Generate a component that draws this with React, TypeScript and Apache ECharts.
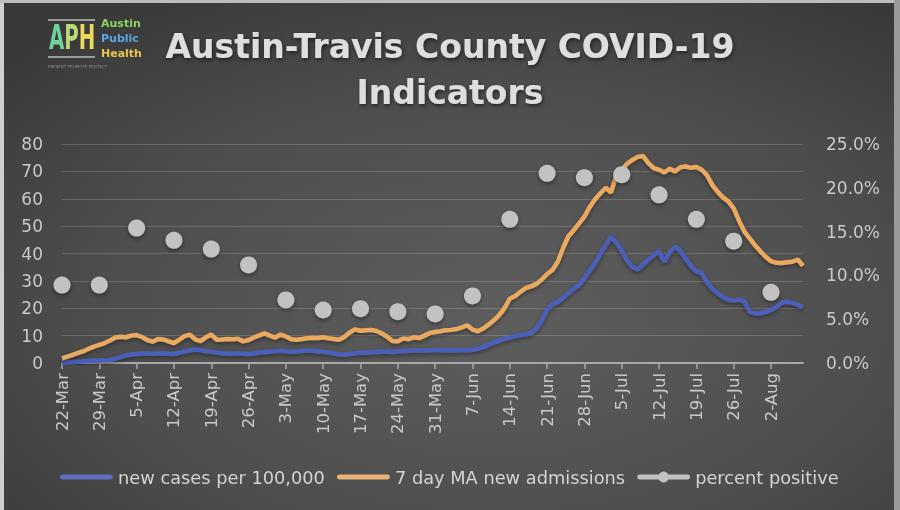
import React, { useEffect, useRef } from "react";
import * as echarts from "echarts";

const monthNames = ["Jan", "Feb", "Mar", "Apr", "May", "Jun", "Jul", "Aug", "Sep", "Oct", "Nov", "Dec"];
const dayCount = 140; // 22-Mar .. 8-Aug
const categories: string[] = [];
for (let i = 0; i < dayCount; i++) {
  const d = new Date(2020, 2, 22 + i);
  categories.push(`${d.getDate()}-${monthNames[d.getMonth()]}`);
}

const newCases = [
  0.2, 0.3, 0.4, 0.5, 0.6, 0.7, 0.8, 0.9, 1.0, 1.1,
  1.6, 2.2, 2.8, 3.1, 3.3, 3.5, 3.6, 3.4, 3.5, 3.6,
  3.4, 3.3, 3.8, 4.2, 4.6, 4.9, 4.7, 4.3, 4.1, 3.8,
  3.6, 3.5, 3.4, 3.5, 3.4, 3.3, 3.5, 3.8, 4.0, 4.1,
  4.4, 4.5, 4.3, 4.1, 4.2, 4.4, 4.6, 4.5, 4.3, 4.1,
  3.8, 3.5, 3.2, 3.0, 3.3, 3.6, 3.8, 3.7, 3.9, 4.0,
  4.1, 4.2, 4.0, 4.2, 4.4, 4.5, 4.6, 4.7, 4.6, 4.7,
  4.8, 4.7, 4.7, 4.6, 4.7, 4.8, 4.7, 4.8, 5.2, 5.8,
  6.6, 7.4, 8.2, 8.8, 9.3, 9.8, 10.2, 10.5, 11.0, 12.5,
  15.5, 19.5, 21.5, 22.3, 23.8, 25.5, 27.2, 28.5, 31.0, 33.8,
  36.5, 40.0, 43.0, 46.1, 44.0, 41.0, 37.5, 35.0, 34.2, 36.0,
  37.8, 39.4, 40.8, 37.0, 40.5, 42.4, 41.0, 38.0, 35.5, 33.5,
  32.8, 29.5, 27.0, 25.5, 24.0, 23.2, 22.8, 23.2, 22.4, 18.8,
  18.0, 18.2, 18.6, 19.3, 20.5, 22.0, 22.4, 22.0, 21.3, 20.5,
];

const admissions = [
  1.7, 2.3, 3.0, 3.7, 4.3, 5.2, 6.0, 6.6, 7.3, 8.2,
  9.3, 9.6, 9.4, 10.0, 10.2, 9.5, 8.4, 7.8, 8.8, 8.6,
  7.9, 7.3, 8.5, 9.8, 10.4, 8.6, 8.0, 9.4, 10.4, 8.5,
  8.6, 8.8, 8.7, 8.9, 7.9, 8.4, 9.3, 10.1, 10.8, 10.0,
  9.3, 10.4, 9.7, 8.7, 8.5, 8.8, 9.0, 9.2, 9.1, 9.4,
  9.0, 8.8, 8.5, 9.6, 11.2, 12.3, 11.8, 12.0, 12.1, 11.7,
  10.8, 9.6, 8.0, 7.9, 9.0, 8.7, 9.4, 9.1, 10.0, 11.0,
  11.3, 11.6, 12.0, 12.1, 12.4, 13.0, 13.8, 12.2, 11.6, 12.6,
  14.0, 15.6, 17.5, 20.0, 23.5, 24.5, 26.0, 27.4, 28.0, 28.9,
  30.5, 32.5, 34.0, 37.0, 42.0, 46.3, 48.5, 51.0, 53.5, 57.0,
  59.8, 62.0, 64.0, 62.3, 68.6, 70.5, 72.8, 74.2, 75.3, 75.6,
  73.0, 71.2, 70.6, 69.6, 71.0, 70.0, 71.5, 71.8, 71.3, 71.6,
  70.6, 68.6, 65.0, 62.5, 60.5, 59.0, 56.5, 52.0, 48.0, 45.5,
  43.0, 40.8, 38.8, 37.2, 36.6, 36.5, 36.8, 37.0, 37.8, 35.5,
];

// weekly, starting 22-Mar
const percentPositiveWeekly = [
  8.9, 8.9, 15.4, 14.0, 13.0, 11.2, 7.2, 6.05, 6.2, 5.86,
  5.6, 7.65, 16.4, 21.65, 21.15, 21.5, 19.2, 16.4, 13.9, 8.07,
];

const percentPositive: (number | null)[] = categories.map((_, i) =>
  i % 7 === 0 && i / 7 < percentPositiveWeekly.length ? percentPositiveWeekly[i / 7] : null
);

const seriesNames = ["new cases per 100,000", "7 day MA new admissions", "percent positive"];

const FONT = "DejaVu Sans";
const CORNERS = "M0,0L0.01,0L0,0.01Z M53,14L52.99,14L53,13.99Z";
const LINE_ICON = "path://" + CORNERS + " M2,4.5H51A2.5,2.5 0 0 1 51,9.5H2A2.5,2.5 0 0 1 2,4.5Z";
const DOT_ICON =
  "path://" + CORNERS +
  " M2,4.5H21.6V9.5H2A2.5,2.5 0 0 1 2,4.5Z" +
  " M31.4,4.5H51A2.5,2.5 0 0 1 51,9.5H31.4Z" +
  " M21,7A5.5,5.5 0 0 1 32,7A5.5,5.5 0 0 1 21,7Z";

export default function App() {
  const ref = useRef<HTMLDivElement>(null);
  useEffect(() => {
    if (!ref.current) return;
    const chart = echarts.init(ref.current, undefined, { renderer: "svg" });
    const shadow = { textShadowColor: "rgba(0,0,0,0.55)", textShadowBlur: 4, textShadowOffsetX: 1, textShadowOffsetY: 2 };
    chart.setOption({
      animation: false,
      backgroundColor: new echarts.graphic.RadialGradient(0.55, 0.62, 0.75, [
        { offset: 0, color: "#5e5e5e" },
        { offset: 0.6, color: "#4d4d4d" },
        { offset: 1, color: "#383838" },
      ]),
      grid: { left: 62, right: 97, top: 144, bottom: 147, containLabel: false },
      legend: {
        left: 55,
        top: 463,
        itemWidth: 53,
        itemHeight: 14,
        itemGap: 12,
        data: [
          { name: seriesNames[0], icon: LINE_ICON },
          { name: seriesNames[1], icon: LINE_ICON },
          { name: seriesNames[2], icon: DOT_ICON },
        ],
        textStyle: { color: "#d4d4d4", fontFamily: FONT, fontSize: 17.8 },
      },
      xAxis: {
        type: "category",
        data: categories,
        boundaryGap: false,
        axisLine: { lineStyle: { color: "#a8a8a8", width: 2 } },
        axisTick: { show: true, interval: 6, length: 6, lineStyle: { color: "#a8a8a8", width: 1.5 } },
        axisLabel: { interval: 6, rotate: 90, margin: 10, color: "#c9c9c9", fontFamily: FONT, fontSize: 16.5 },
        splitLine: { show: false },
      },
      yAxis: [
        {
          type: "value",
          min: 0,
          max: 80,
          interval: 10,
          axisLine: { show: false },
          axisTick: { show: false },
          axisLabel: { margin: 19, color: "#c9c9c9", fontFamily: FONT, fontSize: 17 },
          splitLine: { lineStyle: { color: "rgba(255,255,255,0.16)", width: 1 } },
        },
        {
          type: "value",
          min: 0,
          max: 25,
          interval: 5,
          position: "right",
          axisLine: { show: false },
          axisTick: { show: false },
          axisLabel: {
            margin: 23,
            color: "#c9c9c9",
            fontFamily: FONT,
            fontSize: 17,
            formatter: (v: number) => v.toFixed(1) + "%",
          },
          splitLine: { show: false },
        },
      ],
      series: [
        {
          name: seriesNames[0],
          type: "line",
          data: newCases,
          showSymbol: false,
          symbol: "none",
          lineStyle: { color: "#4c5fb8", width: 4.5, shadowColor: "rgba(0,0,0,0.4)", shadowBlur: 4, shadowOffsetY: 2 },
          itemStyle: { color: "#5e6fc0" },
          z: 2,
        },
        {
          name: seriesNames[1],
          type: "line",
          data: admissions,
          showSymbol: false,
          symbol: "none",
          lineStyle: { color: "#eaa95f", width: 4.5, shadowColor: "rgba(0,0,0,0.4)", shadowBlur: 4, shadowOffsetY: 2 },
          itemStyle: { color: "#e9b276" },
          z: 3,
        },
        {
          name: seriesNames[2],
          type: "line",
          yAxisIndex: 1,
          data: percentPositive,
          connectNulls: false,
          showSymbol: true,
          showAllSymbol: true,
          symbol: "circle",
          symbolSize: 17,
          lineStyle: { color: "#bdbdbd", width: 5 },
          itemStyle: { color: "#c2c2c2", shadowColor: "rgba(0,0,0,0.45)", shadowBlur: 4, shadowOffsetY: 2 },
          z: 4,
        },
      ],
      graphic: [
        // screen edges
        { type: "rect", left: 0, top: 0, shape: { width: 4, height: 510 }, style: { fill: "#cfcfcf" }, silent: true },
        { type: "rect", left: 0, top: 0, shape: { width: 900, height: 3 }, style: { fill: "#bdbdbd" }, silent: true },
        { type: "rect", right: 0, top: 0, shape: { width: 6, height: 510 }, style: { fill: "#9a9a9a" }, silent: true },
        // logo
        { type: "rect", left: 48, top: 19, shape: { width: 47, height: 2 }, style: { fill: "#9c9c9c" }, silent: true },
        { type: "rect", left: 48, top: 56, shape: { width: 47, height: 2 }, style: { fill: "#9c9c9c" }, silent: true },
        {
          type: "text",
          x: 49,
          y: 21,
          scaleX: 0.6,
          style: {
            text: "{a|A}{p|P}{h|H}",
            font: `bold 33px ${FONT}`,
            rich: {
              a: { fill: "#6fd29a", font: `bold 33px ${FONT}` },
              p: { fill: "#b8d87a", font: `bold 33px ${FONT}` },
              h: { fill: "#ecd85a", font: `bold 33px ${FONT}` },
            },
          },
          silent: true,
        },
        { type: "text", left: 101, top: 18, style: { text: "Austin", fill: "#8fd45a", font: `bold 11px ${FONT}` }, silent: true },
        { type: "text", left: 101, top: 33, style: { text: "Public", fill: "#5aa5e6", font: `bold 11px ${FONT}` }, silent: true },
        { type: "text", left: 101, top: 48, style: { text: "Health", fill: "#e8c64c", font: `bold 11px ${FONT}` }, silent: true },
        { type: "text", left: 48, top: 64, style: { text: "PRESENT PROMOTE PROTECT", fill: "#8a8a8a", font: `4px ${FONT}` }, silent: true },
        // title
        {
          type: "text", left: "center", top: 30,
          style: { text: "Austin-Travis County COVID-19", fill: "#dedede", font: `bold 33px ${FONT}`, ...shadow },
          silent: true,
        },
        {
          type: "text", left: "center", top: 76,
          style: { text: "Indicators", fill: "#dedede", font: `bold 33px ${FONT}`, ...shadow },
          silent: true,
        },
      ],
    });
    return () => chart.dispose();
  }, []);
  return <div ref={ref} style={{ position: "fixed", left: 0, top: 0, width: 900, height: 510 }} />;
}
